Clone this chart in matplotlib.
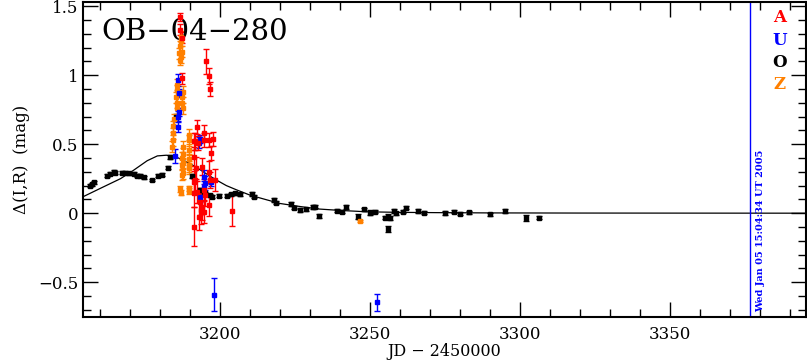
import matplotlib
matplotlib.use("Agg")
import matplotlib.pyplot as plt
from matplotlib.ticker import MultipleLocator, FuncFormatter

# model curve
model_t = [3154.3, 3160, 3166.7, 3171, 3175.6, 3179, 3182, 3185, 3188, 3191.7, 3195,
           3198.3, 3202, 3205.3, 3210, 3215.6, 3220, 3226.7, 3233, 3240, 3249, 3260,
           3272, 3290, 3320, 3395]
model_m = [0.12, 0.18, 0.25, 0.31, 0.38, 0.415, 0.42, 0.41, 0.38, 0.337, 0.29,
           0.245, 0.2, 0.17, 0.13, 0.096, 0.07, 0.048, 0.03, 0.02, 0.01, 0.006,
           0.004, 0.002, 0.001, 0.0]

# O (black)
o_t = [3156.4, 3157.2, 3158.0, 3162.2, 3163.3, 3164.4, 3165.0, 3167.2, 3168.3, 3169.4,
       3171.1, 3172.2, 3173.3, 3174.4, 3177.2, 3179.1, 3180.6, 3182.4, 3183.3, 3185.2,
       3190.6, 3193.3, 3194.4, 3195.0, 3196.4, 3197.2, 3199.4, 3202.2, 3203.6, 3205.0,
       3206.7, 3210.6, 3211.3, 3218.0, 3218.7, 3223.7, 3224.7, 3226.7, 3228.6, 3230.9,
       3231.7, 3232.8, 3238.9, 3240.6, 3241.8, 3245.8, 3247.8, 3249.8, 3251.7, 3254.8,
       3255.8, 3255.8, 3256.7, 3257.8, 3258.7, 3260.9, 3261.8, 3265.8, 3267.8, 3274.8,
       3277.8, 3280.0, 3283.0, 3289.8, 3295.0, 3302.0, 3306.1]
o_m = [0.198, 0.21, 0.224, 0.271, 0.285, 0.301, 0.294, 0.294, 0.294, 0.29,
       0.285, 0.271, 0.271, 0.261, 0.241, 0.271, 0.28, 0.33, 0.41, 0.70,
       0.27, 0.169, 0.149, 0.145, 0.13, 0.12, 0.127, 0.127, 0.137, 0.145,
       0.137, 0.14, 0.12, 0.096, 0.077, 0.067, 0.041, 0.024, 0.029, 0.043,
       0.048, -0.02, 0.019, 0.012, 0.043, -0.024, 0.029, 0.005, 0.01, -0.032,
       -0.116, -0.024, -0.036, 0.017, 0.0, 0.01, 0.041, 0.017, 0.005, 0.0,
       0.012, -0.003, 0.007, -0.007, 0.017, -0.036, -0.032]
o_e = [0.01, 0.01, 0.01, 0.01, 0.01, 0.01, 0.01, 0.01, 0.01, 0.01,
       0.01, 0.01, 0.01, 0.01, 0.01, 0.01, 0.01, 0.01, 0.015, 0.015,
       0.012, 0.012, 0.012, 0.012, 0.012, 0.012, 0.012, 0.012, 0.012, 0.012,
       0.012, 0.012, 0.012, 0.012, 0.012, 0.012, 0.012, 0.012, 0.012, 0.015,
       0.012, 0.015, 0.012, 0.012, 0.015, 0.02, 0.012, 0.015, 0.012, 0.012,
       0.02, 0.015, 0.015, 0.012, 0.012, 0.012, 0.012, 0.012, 0.012, 0.015,
       0.012, 0.012, 0.012, 0.012, 0.012, 0.02, 0.012]

# Z (orange)
z_t = [3184.2, 3184.3, 3184.1, 3184.4, 3184.0, 3185.3, 3185.5, 3185.6, 3185.4, 3185.7,
       3186.7, 3186.3, 3186.5, 3187.2, 3186.8, 3186.9, 3187.0,
       3187.2, 3187.3, 3187.4, 3187.5, 3187.6, 3187.6, 3187.6, 3187.7, 3187.3, 3187.2,
       3187.2, 3186.7, 3187.0,
       3189.4, 3189.4, 3189.5, 3189.7, 3189.4, 3189.4, 3189.4, 3189.6, 3246.7]
z_m = [0.63, 0.58, 0.53, 0.68, 0.48, 0.84, 0.89, 0.80, 0.93, 0.76,
       1.21, 1.16, 1.11, 1.17, 1.25, 1.28, 1.13,
       0.84, 0.80, 0.88, 0.76, 0.48, 0.43, 0.36, 0.29, 0.40, 0.277,
       0.35, 0.174, 0.149,
       0.53, 0.46, 0.39, 0.34, 0.57, 0.326, 0.18, 0.16, -0.056]
z_e = [0.04, 0.04, 0.04, 0.04, 0.04, 0.04, 0.04, 0.04, 0.04, 0.04,
       0.04, 0.04, 0.04, 0.04, 0.04, 0.04, 0.04,
       0.04, 0.04, 0.04, 0.04, 0.04, 0.04, 0.04, 0.04, 0.04, 0.04,
       0.04, 0.02, 0.02,
       0.04, 0.04, 0.04, 0.04, 0.04, 0.04, 0.02, 0.02, 0.01]

# U (blue)
u_t = [3185.0, 3185.9, 3186.0, 3185.9, 3186.1, 3186.3, 3192.8, 3193.3, 3194.4, 3195.0,
       3197.0, 3193.1, 3194.4, 3197.8, 3252.2]
u_m = [0.415, 0.965, 0.70, 0.627, 0.735, 0.87, 0.51, 0.54, 0.265, 0.217,
       0.224, 0.12, 0.19, -0.59, -0.647]
u_e = [0.05, 0.04, 0.04, 0.04, 0.03, 0.03, 0.04, 0.03, 0.05, 0.05,
       0.03, 0.04, 0.04, 0.12, 0.06]

# A (red)
a_t = [3186.7, 3186.4, 3187.2, 3187.2, 3195.3, 3196.1, 3196.4, 3191.1, 3191.7, 3192.4,
       3194.4, 3194.4, 3196.1, 3197.4, 3197.0, 3192.2, 3193.9, 3191.1, 3191.9, 3191.7,
       3196.1, 3198.1, 3196.7, 3194.4, 3192.2, 3191.1, 3191.1, 3191.1, 3193.6, 3193.3,
       3193.9, 3194.4, 3195.0, 3196.1, 3203.9, 3192.8]
a_m = [1.42, 1.33, 1.27, 0.977, 1.10, 0.993, 0.90, 0.52, 0.52, 0.506,
       0.58, 0.53, 0.53, 0.54, 0.434, 0.625, 0.337, 0.41, 0.326, 0.24,
       0.30, 0.24, 0.24, 0.169, 0.156, 0.229, 0.145, -0.097, 0.024, 0.084,
       0.048, 0.012, 0.132, 0.06, 0.019, -0.024]
a_e = [0.03, 0.04, 0.04, 0.04, 0.09, 0.06, 0.05, 0.06, 0.06, 0.05,
       0.06, 0.05, 0.05, 0.05, 0.05, 0.05, 0.06, 0.07, 0.08, 0.08,
       0.08, 0.08, 0.06, 0.08, 0.08, 0.08, 0.1, 0.14, 0.1, 0.1,
       0.1, 0.08, 0.08, 0.08, 0.11, 0.1]

date_jd = 3376.5
date_text = "Wed Jan 05 15:04:34 UT 2005"

plt.rcParams['font.family'] = ['DejaVu Serif', 'DejaVu Sans']
plt.rcParams['xtick.direction'] = 'in'
plt.rcParams['ytick.direction'] = 'in'

fig = plt.figure(figsize=(8.07, 3.63), dpi=100)
ax = fig.add_axes([0.1032, 0.1275, 0.8956, 0.8670])

ax.plot(model_t, model_m, color='black', lw=0.9, zorder=2)

series = [(o_t, o_m, o_e, 'black'), (z_t, z_m, z_e, '#ff8000'),
          (u_t, u_m, u_e, '#0000ff'), (a_t, a_m, a_e, '#ff0000')]
for t, m, e, c in series:
    ax.errorbar(t, m, yerr=e, fmt='s', ms=3.5, color=c, ecolor=c,
                elinewidth=1, capsize=2, capthick=1, zorder=3)

ax.axvline(date_jd, color='#0000ff', lw=1)

ax.set_xlim(3154.3, 3395.3)
ax.set_ylim(-0.75, 1.53)
ax.xaxis.set_major_locator(MultipleLocator(50))
ax.xaxis.set_minor_locator(MultipleLocator(10))
ax.yaxis.set_major_locator(MultipleLocator(0.5))
ax.yaxis.set_minor_locator(MultipleLocator(0.1))
ax.yaxis.set_major_formatter(FuncFormatter(lambda v, p: ('%g' % v).replace('-', '\u2212')))
ax.tick_params(which='both', top=True, right=True, labelsize=12)
ax.tick_params(which='major', length=11, width=1)
ax.tick_params(which='minor', length=6, width=1)
ax.tick_params(axis='x', pad=7)
for s in ax.spines.values():
    s.set_linewidth(1.5)

ax.set_xlabel('JD \u2212 2450000', fontsize=11.5, labelpad=0)
ax.set_ylabel('\u0394(I,R)  (mag)', fontsize=12, labelpad=6)

ax.text(0.025, 0.95, 'OB\u221204\u2212280', transform=ax.transAxes, fontsize=21,
        ha='left', va='top')

legend_items = [('A', '#ff0000'), ('U', '#0000ff'), ('O', 'black'), ('Z', '#ff8000')]
for i, (lab, c) in enumerate(legend_items):
    fig.text(780 / 807, 1 - (18 + i * 22.3) / 363, lab, color=c, fontsize=12,
             fontweight='bold', ha='center', va='center')

fig.text(761 / 807, 1 - 312 / 363, date_text, color='#0000ff', fontsize=7,
         fontweight='bold', rotation=90, ha='center', va='bottom')

fig.savefig('out.png', dpi=100)
